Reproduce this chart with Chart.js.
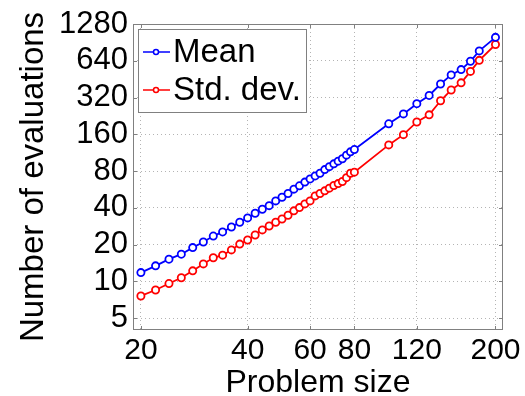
<!DOCTYPE html>
<html lang="en">
<head>
    <meta charset="UTF-8">
    <title>Evaluations vs problem size</title>
    <script src="https://cdn.jsdelivr.net/npm/chart.js"></script>
    <style>
        body { margin: 0; background: white; }
        #wrap { width: 525px; height: 396px; }
    </style>
</head>
<body>
<div id="wrap"><canvas id="evalChart" width="525" height="396"></canvas></div>
<script>
    // problem sizes
    const sizes = [20, 22, 24, 26, 28, 30, 32, 34, 36, 38, 40, 42, 44, 46, 48, 50,
        52, 54, 56, 58, 60, 62, 64, 66, 68, 70, 72, 74, 76, 78, 80,
        100, 110, 120, 130, 140, 150, 160, 170, 180, 200];

    const meanEvals = [11.8, 13.4, 15.2, 16.7, 18.9, 21.0, 23.5, 25.4, 27.9, 30.5, 33.1,
        36.1, 39.0, 41.7, 45.6, 48.9, 52.4, 56.9, 60.6, 65, 69, 73, 76.8, 82.3, 87,
        91.7, 96.5, 101, 108, 115, 120,
        195, 235, 285, 333, 413, 490, 542, 634, 771, 995];

    const stdEvals = [7.6, 8.5, 9.6, 10.7, 12.2, 13.9, 15.6, 16.4, 18.1, 20.2, 21.8,
        24.0, 26.4, 28.4, 30.5, 32.4, 34.8, 37.8, 40.2, 43.1, 45.6, 50.1, 52.4, 55.1,
        58, 61, 63.2, 65.7, 70.7, 76.8, 78.4,
        131, 159, 202, 231, 301, 369, 422, 524, 645, 870];

    const xTicks = [20, 40, 60, 80, 120, 200];
    const yTicks = [5, 10, 20, 40, 80, 160, 320, 640, 1280];

    const FONT = 'Liberation Sans, Arial, Helvetica, sans-serif';
    const AXIS_GRAY = '#808080';
    const GRID_GRAY = '#b4b4b4';

    // matlab style box + inward tick marks
    const boxPlugin = {
        id: 'box',
        afterDraw(chart) {
            const {ctx, chartArea: a, scales} = chart;
            ctx.save();
            ctx.strokeStyle = AXIS_GRAY;
            ctx.lineWidth = 1;
            ctx.beginPath();
            xTicks.forEach(t => {
                const x = Math.round(scales.x.getPixelForValue(t)) + 0.5;
                ctx.moveTo(x, a.bottom); ctx.lineTo(x, a.bottom - 4);
                ctx.moveTo(x, a.top); ctx.lineTo(x, a.top + 4);
            });
            yTicks.forEach(t => {
                const y = Math.round(scales.y.getPixelForValue(t)) + 0.5;
                ctx.moveTo(a.left, y); ctx.lineTo(a.left + 4, y);
                ctx.moveTo(a.right, y); ctx.lineTo(a.right - 4, y);
            });
            ctx.stroke();
            ctx.strokeRect(a.left + 0.5, a.top + 0.5, a.right - a.left - 1, a.bottom - a.top - 1);
            ctx.restore();
        }
    };

    // legend box drawn inside the plot, top left
    const legendPlugin = {
        id: 'boxLegend',
        afterDraw(chart) {
            const {ctx, chartArea: a} = chart;
            const x0 = a.left + 5, y0 = a.top + 5, w = 168, h = 83;
            ctx.save();
            ctx.fillStyle = 'white';
            ctx.fillRect(x0, y0, w, h);
            ctx.strokeStyle = AXIS_GRAY;
            ctx.lineWidth = 1;
            ctx.strokeRect(x0 + 0.5, y0 + 0.5, w, h);
            ctx.font = '33px ' + FONT;
            ctx.textBaseline = 'middle';
            chart.data.datasets.forEach((ds, i) => {
                const cy = y0 + 23 + i * 38;
                ctx.strokeStyle = ds.borderColor;
                ctx.lineWidth = 1.5;
                ctx.beginPath();
                ctx.moveTo(x0 + 5, cy); ctx.lineTo(x0 + 32, cy);
                ctx.stroke();
                ctx.beginPath();
                ctx.fillStyle = 'white';
                ctx.arc(x0 + 18, cy, 2.5, 0, Math.PI * 2);
                ctx.fill(); ctx.stroke();
                ctx.fillStyle = 'black';
                ctx.fillText(ds.label, x0 + 35, cy + 1);
            });
            ctx.restore();
        }
    };

    function series(label, values, color) {
        return {
            label: label,
            data: sizes.map((s, i) => ({x: s, y: values[i]})),
            borderColor: color,
            backgroundColor: color,
            borderWidth: 1.8,
            pointRadius: 3.6,
            pointBorderWidth: 1.8,
            pointBackgroundColor: 'white',
            pointBorderColor: color,
            tension: 0
        };
    }

    new Chart(document.getElementById('evalChart'), {
        type: 'line',
        data: {
            datasets: [
                series('Mean', meanEvals, '#0000ff'),
                series('Std. dev.', stdEvals, '#ff0000')
            ]
        },
        options: {
            responsive: false,
            animation: false,
            layout: { padding: { top: 24, right: 22, left: 0, bottom: 0 } },
            plugins: { legend: { display: false }, tooltip: { enabled: false } },
            scales: {
                x: {
                    type: 'logarithmic',
                    min: 19,
                    max: 210,
                    afterBuildTicks: s => { s.ticks = xTicks.map(v => ({value: v})); },
                    afterFit: s => { s.height = 66; },
                    border: { display: false, dash: [1, 3] },
                    grid: { color: GRID_GRAY, drawTicks: false, lineWidth: 1 },
                    ticks: {
                        color: 'black', padding: 3, maxRotation: 0, autoSkip: false,
                        font: { family: FONT, size: 30 },
                        callback: v => String(v)
                    },
                    title: {
                        display: true, text: 'Problem size', color: 'black',
                        font: { family: FONT, size: 32, lineHeight: 1 },
                        padding: { top: 0, bottom: -3 }
                    }
                },
                y: {
                    type: 'logarithmic',
                    min: 4,
                    max: 1280,
                    afterBuildTicks: s => { s.ticks = yTicks.map(v => ({value: v})); },
                    afterFit: s => { s.width = 133; },
                    border: { display: false, dash: [1, 3] },
                    grid: { color: GRID_GRAY, drawTicks: false, lineWidth: 1 },
                    ticks: {
                        color: 'black', padding: 5, autoSkip: false,
                        font: { family: FONT, size: 31 },
                        callback: v => String(v)
                    },
                    title: {
                        display: true, text: 'Number of evaluations', color: 'black',
                        font: { family: FONT, size: 33, lineHeight: 1 },
                        padding: { top: 17, bottom: 0 }
                    }
                }
            }
        },
        plugins: [boxPlugin, legendPlugin]
    });
</script>
</body>
</html>
